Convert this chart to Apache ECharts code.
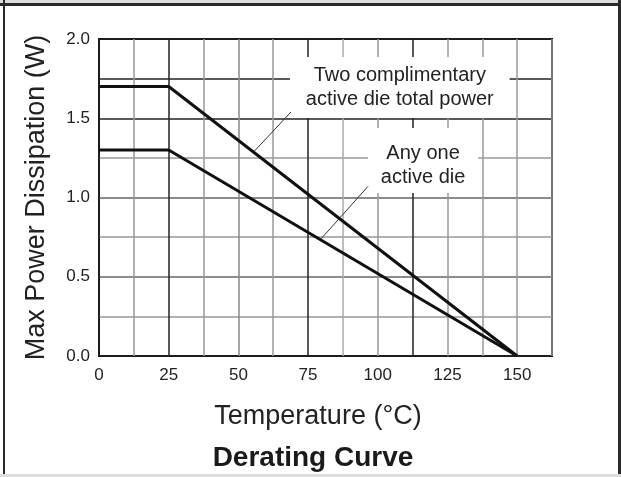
<!DOCTYPE html>
<html>
<head>
<meta charset="utf-8">
<script src="https://cdn.jsdelivr.net/npm/echarts@6/dist/echarts.min.js"></script>
<style>
  html, body { margin: 0; padding: 0; background: #fff; }
  #chart { width: 621px; height: 477px; }
</style>
</head>
<body>
<div id="chart"></div>
<script>
// 数据：温度 / 功率
const temps = [0, 25, 150];
const twoDiePower = [1.7, 1.7, 0];
const oneDiePower = [1.3, 1.3, 0];
const labelTwo = 'Two complimentary\nactive die total power';
const labelOne = 'Any one\nactive die';

// 网格线颜色（扫描图里深浅不一）
const vColors = ['#222', '#999', '#222', '#999', '#888', '#999', '#222', '#aaa', '#999', '#222', '#999', '#999', '#999', '#999'];
const hColors = ['#222', '#999', '#666', '#999', '#666', '#999', '#222', '#222', '#222'];

const chartDom = document.getElementById('chart');
const myChart = echarts.init(chartDom);

const font = 'Liberation Sans, Arial, sans-serif';

const option = {
  backgroundColor: '#fff',
  animation: false,
  title: {
    text: 'Derating Curve',
    left: 308,
    textAlign: 'center',
    top: 439,
    textStyle: { fontFamily: font, fontSize: 28, fontWeight: 'bold', color: '#1a1a1a' }
  },
  grid: { left: 99, right: 69, top: 39, bottom: 121, show: true, borderColor: '#111', borderWidth: 2 },
  xAxis: {
    type: 'value',
    min: 0,
    max: 162.5,
    interval: 12.5,
    name: 'Temperature (°C)',
    nameLocation: 'middle',
    nameGap: 47,
    nameTextStyle: { fontFamily: font, fontSize: 27, color: '#222', padding: [0, 0, 0, -15] },
    axisLine: { show: false },
    axisTick: { show: false },
    axisLabel: {
      fontFamily: font, fontSize: 17, color: '#222', margin: 11,
      formatter: v => (v % 25 === 0 && v <= 150) ? String(v) : ''
    },
    splitLine: { show: true, lineStyle: { color: vColors, width: 1.5 } }
  },
  yAxis: {
    type: 'value',
    min: 0,
    max: 2,
    interval: 0.25,
    name: 'Max Power Dissipation (W)',
    nameLocation: 'middle',
    nameGap: 49,
    nameTextStyle: { fontFamily: font, fontSize: 27, color: '#222' },
    axisLine: { show: false },
    axisTick: { show: false },
    axisLabel: {
      fontFamily: font, fontSize: 17, color: '#222', margin: 9,
      formatter: v => (Math.abs(v * 2 - Math.round(v * 2)) < 1e-6) ? v.toFixed(1) : ''
    },
    splitLine: { show: true, lineStyle: { color: hColors, width: 1.5 } }
  },
  series: [
    {
      name: 'Two die',
      type: 'line',
      data: temps.map((t, i) => [t, twoDiePower[i]]),
      symbol: 'none',
      lineStyle: { color: '#111', width: 3 },
      z: 5,
      markArea: {
        silent: true,
        itemStyle: { color: '#fff' },
        label: {
          show: true, position: 'inside', fontFamily: font, fontSize: 20,
          color: '#222', lineHeight: 24, align: 'center'
        },
        data: [
          [{ coord: [68.5, 1.886], name: labelTwo }, { coord: [147.3, 1.502] }],
          [{ coord: [96.5, 1.438], name: labelOne, label: { offset: [0, 5] } }, { coord: [136, 1.028] }]
        ]
      },
      markLine: {
        silent: true,
        symbol: 'none',
        label: { show: false },
        lineStyle: { color: '#333', width: 1, type: 'solid' },
        data: [
          [{ coord: [68.9, 1.54] }, { coord: [55.6, 1.29] }],
          [{ coord: [96.5, 1.07] }, { coord: [79.7, 0.74] }]
        ]
      }
    },
    {
      name: 'One die',
      type: 'line',
      data: temps.map((t, i) => [t, oneDiePower[i]]),
      symbol: 'none',
      lineStyle: { color: '#111', width: 3 },
      z: 5
    }
  ],
  graphic: [
    { type: 'rect', shape: { x: 0, y: 0, width: 621, height: 3 }, style: { fill: '#ddd' } },
    { type: 'rect', shape: { x: 0, y: 3, width: 621, height: 3 }, style: { fill: '#2a2a2a' } },
    { type: 'rect', shape: { x: 3, y: 0, width: 2, height: 477 }, style: { fill: '#2a2a2a' } },
    { type: 'rect', shape: { x: 618, y: 0, width: 3, height: 477 }, style: { fill: '#2a2a2a' } },
    { type: 'rect', shape: { x: 0, y: 474, width: 621, height: 3 }, style: { fill: '#ddd' } }
  ]
};

option && myChart.setOption(option);
</script>
</body>
</html>
